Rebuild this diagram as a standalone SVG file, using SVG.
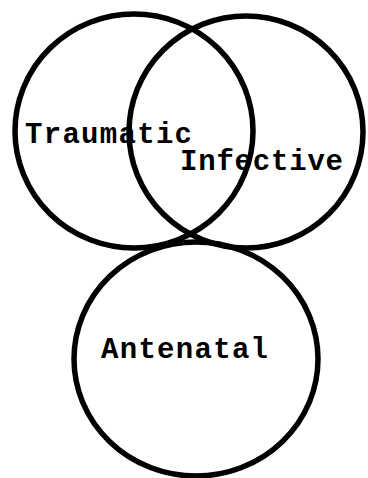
<svg xmlns="http://www.w3.org/2000/svg" width="368" height="478" viewBox="0 0 368 478">
<style>
.c{fill:none;stroke:#000;stroke-width:5.5}
.t{font-family:"Liberation Mono","Courier New",monospace;font-size:29px;font-weight:bold;fill:#000}
</style>
<rect width="368" height="478" fill="#fff"/>
<g id="traumatic">
<ellipse class="c" cx="134" cy="131" rx="119" ry="117"/>
<text class="t" x="25" y="143" textLength="167" lengthAdjust="spacing">Traumatic</text>
</g>
<g id="infective">
<ellipse class="c" cx="246" cy="132" rx="117" ry="116"/>
<text class="t" x="180" y="170" textLength="163" lengthAdjust="spacing">Infective</text>
</g>
<g id="antenatal">
<ellipse class="c" cx="196" cy="359" rx="122" ry="117"/>
<text class="t" x="101" y="358" textLength="167" lengthAdjust="spacing">Antenatal</text>
</g>
<g id="connectors"></g>
</svg>
